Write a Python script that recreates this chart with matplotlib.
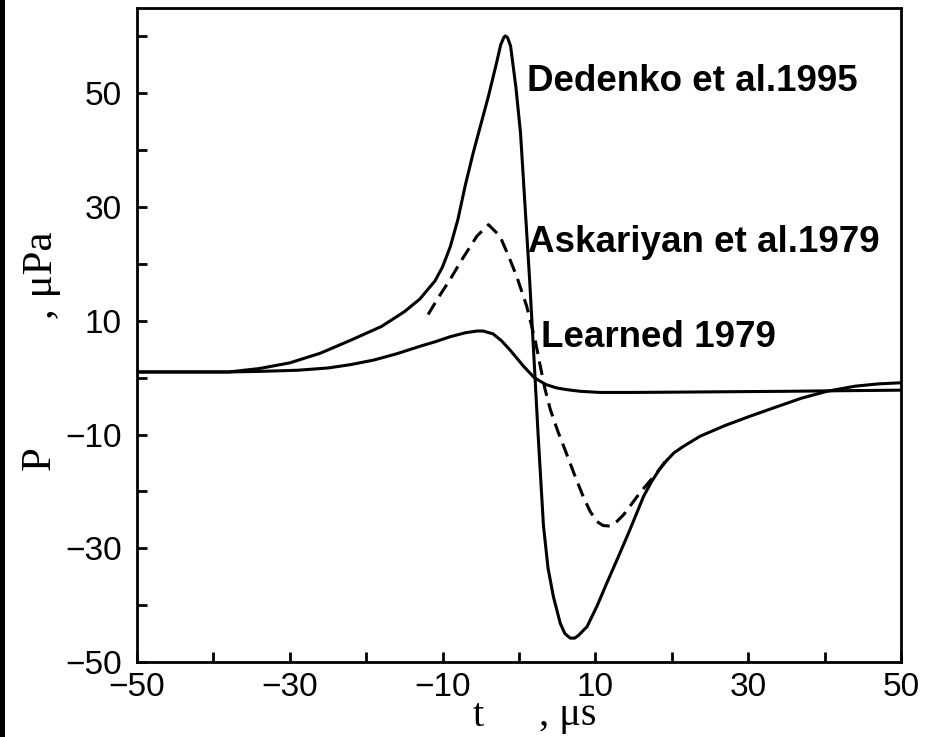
import matplotlib
matplotlib.use("Agg")
import matplotlib.pyplot as plt
from matplotlib.patches import Rectangle

# Pressure pulse curves, P (uPa) vs t (us)
t_dedenko = [-50, -38, -34, -30, -26, -22, -18, -15, -13, -11, -10, -9, -8, -7, -6,
             -5, -4, -3, -2.4, -2.0, -1.8, -1.5, -1.1, -0.4, 0.2, 0.8, 1.4, 2.1,
             2.5, 3.2, 3.8, 4.5, 5.4, 6.0, 6.7, 7.3, 7.8, 8.9, 10.2, 11.5, 13, 14.5, 16.3,
             17.3, 18.3, 19.3, 20.3, 21.5, 23.7, 27, 30.2, 34, 37, 40.3, 44, 47, 50]
p_dedenko = [1.0, 1.0, 1.6, 2.6, 4.3, 6.6, 9.0, 11.6, 13.8, 17.0, 19.5, 23.0, 27.8, 34.0,
             39.5, 44.5, 49.5, 55.0, 58.5, 59.8, 60.1, 59.8, 58.3, 51.0, 43.0, 30.0, 17.0,
             0.0, -10.0, -26.0, -33.5, -38.5, -43.2, -45.0, -45.8, -45.8, -45.3, -43.8,
             -40.2, -36.1, -31.5, -26.8, -20.9, -18.4, -16.3, -14.6, -13.2, -12.1, -10.3,
             -8.4, -6.8, -5.0, -3.6, -2.4, -1.5, -1.1, -0.9]

t_learned = [-50, -38, -34, -29, -25, -22, -19, -16, -13, -11, -9, -7, -5.5, -4.7, -3.4,
             -2.3, -1.2, 0.6, 2.0, 3.5, 4.9, 6.2, 8, 10.6, 15, 25, 35, 42, 50]
p_learned = [1.0, 1.0, 1.1, 1.3, 1.7, 2.3, 3.1, 4.2, 5.5, 6.3, 7.2, 7.9, 8.2, 8.2, 7.7,
             6.5, 4.9, 2.0, 0.0, -1.2, -1.8, -2.1, -2.4, -2.6, -2.6, -2.5, -2.4, -2.3, -2.2]

t_askariyan = [-11.9, -10.5, -9.0, -7.5, -5.5, -4.0, -2.5, -1.4, -0.3, 1.0, 2.1, 2.7, 3.4,
               4.1, 5.1, 6.2, 7.3, 8.4, 9.3, 10.2, 11.0, 11.9, 12.8, 13.7, 15.8, 18.0, 19.5]
p_askariyan = [11.1, 14.2, 17.3, 20.7, 24.9, 26.9, 24.9, 21.5, 17.8, 12.6, 6.7, 2.6, -2.0,
               -5.6, -9.5, -13.3, -17.2, -20.9, -23.5, -25.3, -26.0, -26.1, -25.3, -24.1,
               -20.3, -16.8, -14.1]

curve_labels = ["Dedenko et al.1995", "Askariyan et al.1979", "Learned 1979"]
label_pos = [(1.0, 52.0), (1.2, 23.8), (2.9, 7.1)]

x_major = [-50, -30, -10, 10, 30, 50]
x_minor = [-40, -20, 0, 20, 40]
y_major = [-50, -30, -10, 10, 30, 50]
y_minor = [-40, -20, 0, 20, 40, 60]

W, H = 932, 737
fig = plt.figure(figsize=(W / 100, H / 100), dpi=100)
ax = fig.add_axes([137 / W, 1 - 662 / H, (901 - 137) / W, (662 - 8) / H])

lw = 2.2
ax.plot(t_dedenko, p_dedenko, color="black", lw=lw, solid_joinstyle="round")
ax.plot(t_learned, p_learned, color="black", lw=lw, solid_joinstyle="round")
ax.plot(t_askariyan, p_askariyan, color="black", lw=lw, linestyle=(0, (4.5, 2.5)))

for txt, (x, y) in zip(curve_labels, label_pos):
    ax.text(x, y, txt, fontsize=26.5, fontweight="bold", family="Liberation Sans",
            ha="left", va="center")

ax.set_xlim(-50, 50)
ax.set_ylim(-50, 65)
ax.set_xticks(x_major)
ax.set_xticks(x_minor, minor=True)
ax.set_yticks(y_major)
ax.set_yticks(y_minor, minor=True)
ax.set_xticklabels([str(v).replace("-", "\u2212") for v in x_major])
ax.set_yticklabels([str(v).replace("-", "\u2212") for v in y_major])
for lab in ax.get_xticklabels() + ax.get_yticklabels():
    lab.set_family("Liberation Sans")
    lab.set_fontsize(24)
ax.tick_params(which="both", direction="in", length=7, width=2, top=False, right=False)
ax.tick_params(axis="x", which="both", pad=7)
ax.tick_params(axis="y", which="both", pad=11)
for sp in ax.spines.values():
    sp.set_linewidth(2)

# axis titles
fig.text(40 / W, 1 - 458 / H, "P", rotation=90, fontsize=31, family="Liberation Serif",
         ha="center", va="center")
fig.text(42 / W, 1 - 275 / H, ", \u03bcPa", rotation=90, fontsize=31,
         family="Liberation Serif", ha="center", va="center")
fig.text(478 / W, 1 - 716 / H, "t", fontsize=29, family="Liberation Serif",
         ha="center", va="center")
fig.text(568 / W, 1 - 716 / H, ", \u03bcs", fontsize=29, family="Liberation Serif",
         ha="center", va="center")

# left frame bar
fig.add_artist(Rectangle((0, 0), 5 / W, 1, transform=fig.transFigure,
                         facecolor="black", edgecolor="none"))

fig.savefig("out.png", dpi=100)
